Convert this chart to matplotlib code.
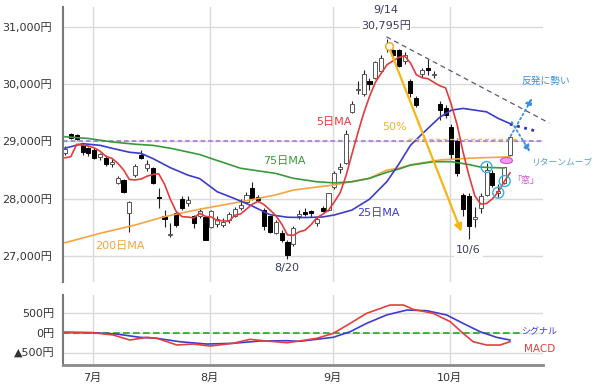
import matplotlib
matplotlib.use("Agg")
import matplotlib.pyplot as plt
from matplotlib.patches import Ellipse

plt.rcParams["font.family"] = ["DejaVu Sans", "Noto Sans CJK JP"]

# --- daily candles (Nikkei 225, yen) ---
dates = ["6/24", "6/25", "6/28", "6/29", "6/30",
         "7/1", "7/2", "7/5", "7/6", "7/7", "7/8", "7/9", "7/12", "7/13", "7/14",
         "7/15", "7/16", "7/19", "7/20", "7/21", "7/26", "7/27", "7/28", "7/29", "7/30",
         "8/2", "8/3", "8/4", "8/5", "8/6", "8/10", "8/11", "8/12", "8/13", "8/16",
         "8/17", "8/18", "8/19", "8/20", "8/23", "8/24", "8/25", "8/26", "8/27", "8/30", "8/31",
         "9/1", "9/2", "9/3", "9/6", "9/7", "9/8", "9/9", "9/10", "9/13", "9/14",
         "9/15", "9/16", "9/17", "9/21", "9/22", "9/24", "9/27", "9/28", "9/29", "9/30",
         "10/1", "10/4", "10/5", "10/6", "10/7", "10/8", "10/11", "10/12", "10/13", "10/14", "10/15"]
opens = [28800, 29130, 29110, 28930, 28890,
         28850, 28730, 28715, 28600, 28280, 28320, 27750, 28410, 28760, 28530,
         28540, 28030, 27690, 27360, 27745, 28000, 27920, 27690, 27690, 27680,
         27510, 27550, 27540, 27620, 27700, 27830, 27950, 28180, 28035, 27800,
         27690, 27400, 27400, 27240, 27200, 27690, 27760, 27780, 27580, 27840, 27800,
         28200, 28520, 28620, 29520, 29900, 29830, 30050, 30100, 30220, 30640,
         30600, 30590, 30400, 30050, 29760, 30170, 30280, 30150, 29660, 29580,
         29250, 29000, 28060, 28040, 27650, 27830, 28060, 28450, 28090, 28270, 28760]
highs = [28911, 29150, 29120, 28960, 28900,
         28880, 28800, 28760, 28700, 28400, 28340, 27960, 28600, 28852, 28680,
         28560, 28190, 27800, 27580, 27780, 28050, 28050, 27710, 27830, 27700,
         27800, 27700, 27660, 27760, 27850, 27990, 28110, 28295, 28060, 27830,
         27700, 27620, 27450, 27270, 27520, 27800, 27830, 27800, 27690, 27880, 28100,
         28480, 28620, 29200, 29700, 30050, 30250, 30100, 30400, 30500, 30795,
         30620, 30620, 30560, 30080, 29800, 30280, 30430, 30220, 29700, 29640,
         29300, 29050, 28100, 28100, 27850, 28100, 28620, 28500, 28250, 28560, 29100]
lows = [28760, 29040, 29030, 28760, 28740,
        28690, 28680, 28570, 28560, 28250, 28100, 27419, 28380, 28700, 28480,
        28250, 27830, 27510, 27330, 27500, 27800, 27880, 27490, 27660, 27270,
        27480, 27500, 27500, 27580, 27680, 27800, 27920, 27980, 27950, 27450,
        27400, 27380, 27250, 26954, 27180, 27650, 27700, 27680, 27520, 27760, 27780,
        28160, 28450, 28600, 29500, 29820, 29800, 29900, 30080, 30200, 30565,
        30450, 30300, 30350, 29780, 29600, 30120, 30150, 30100, 29380, 29400,
        28700, 28400, 27700, 27293, 27500, 27750, 28040, 28200, 28020, 28250, 28740]
closes = [28875, 29066, 29048, 28812, 28792,
          28707, 28783, 28598, 28643, 28367, 28118, 27940, 28569, 28718, 28608,
          28279, 28003, 27653, 27388, 27548, 27833, 27970, 27582, 27782, 27284,
          27781, 27642, 27584, 27728, 27820, 27888, 28071, 28015, 27977, 27523,
          27424, 27586, 27281, 27013, 27494, 27732, 27725, 27742, 27641, 27789, 28090,
          28451, 28544, 29128, 29660, 29916, 30181, 30008, 30382, 30447, 30670,
          30512, 30323, 30500, 29840, 29639, 30249, 30240, 30184, 29544, 29453,
          28771, 28445, 27822, 27529, 27678, 28049, 28498, 28231, 28140, 28551, 29069]

# --- moving averages ---
ma5 = [28712, 28733, 28949, 28935, 28919, 28885, 28828, 28738, 28705, 28620,
       28502, 28333, 28327, 28342, 28391, 28423, 28435, 28252, 27986, 27774,
       27685, 27678, 27664, 27743, 27690, 27680, 27614, 27615, 27604, 27711,
       27732, 27818, 27904, 27954, 27895, 27802, 27705, 27558, 27365, 27360,
       27421, 27449, 27541, 27667, 27726, 27797, 27943, 28103, 28400, 28775,
       29140, 29486, 29779, 30029, 30187, 30338, 30404, 30467, 30490, 30369,
       30163, 30110, 30094, 30030, 29971, 29934, 29638, 29279, 28807, 28404,
       28049, 27905, 27915, 27997, 28119, 28294, 28450]
ma25_at = [0, 3, 6, 8, 11, 13, 15, 18, 21, 23, 26, 29, 32, 35, 38, 41, 44, 46, 49,
           52, 55, 57, 59, 61, 64, 66, 68, 72, 74, 76]
ma25 = [28880, 28960, 28930, 28880, 28810, 28790, 28700, 28540, 28410, 28350,
        28120, 28000, 27870, 27720, 27675, 27670, 27680, 27715, 27800, 27990,
        28300, 28600, 28930, 29130, 29420, 29545, 29575, 29515, 29400, 29310]
ma75_at = [0, 4, 8, 12, 15, 18, 23, 25, 30, 34, 36, 39, 43, 46, 49, 52, 55, 57,
           59, 63, 66, 69, 71, 75]
ma75 = [29080, 29050, 28990, 28950, 28930, 28880, 28770, 28700, 28530, 28470,
        28440, 28355, 28295, 28275, 28295, 28355, 28460, 28515, 28585, 28645,
        28645, 28595, 28550, 28535]
ma200_at = [0, 6, 12, 17, 23, 30, 36, 39, 46, 52, 55, 57, 59, 64, 69, 76]
ma200 = [27230, 27395, 27540, 27685, 27815, 27945, 28065, 28150, 28240, 28355,
         28500, 28530, 28590, 28675, 28705, 28730]

# --- MACD panel (yen) ---
macd_at = [0, 4.8, 8.2, 11.1, 14, 15.7, 19.1, 21.9, 24.8, 28.7, 31.6, 34.4, 37.9,
           40.1, 43, 45.8, 48.7, 51.5, 55.5, 57.8, 59.5, 62.9, 65.8, 68, 69.7, 72,
           74.3, 76]
macd = [10, 0, -57, -183, -115, -140, -307, -283, -333, -265, -165, -207, -250,
        -207, -140, -17, 233, 483, 692, 692, 583, 483, 275, -17, -225, -308, -308,
        -225]
signal_at = [0, 4.8, 8.8, 12.8, 15.7, 19.6, 24.2, 28.7, 33.3, 37.9, 40.1, 45.8,
             48.7, 51.5, 54.9, 58.4, 61.8, 65.2, 68, 70.9, 73.7, 76]
signal = [10, 0, -33, -115, -140, -225, -283, -265, -207, -200, -215, -115, 25,
          233, 442, 567, 550, 442, 233, 25, -115, -183]

peak_high = 30795
bottom_low = 27293
fifty = (peak_high + bottom_low) / 2
ref_level = 29000

x = list(range(len(dates)))
months = []
prev = dates[0].split("/")[0]
for i, d in enumerate(dates):
    m = d.split("/")[0]
    if m != prev:
        months.append((i - 0.3, f"{m}月"))
    prev = m
month_pos = [p for p, _ in months]
month_lab = [t for _, t in months]

fig = plt.figure(figsize=(6.0, 3.89), dpi=100)
ax = fig.add_axes([0.105, 0.2751, 0.8, 0.7061])
ax2 = fig.add_axes([0.105, 0.0617, 0.8, 0.1799])

GRID = "#d9d9d9"
for a in (ax, ax2):
    a.set_xlim(-0.34, 81.64)
    a.set_xticks(month_pos)
    a.grid(True, color=GRID, linewidth=1)
    a.set_axisbelow(True)
    a.spines[["top", "right"]].set_visible(False)
    a.spines["left"].set_color("#7a7a7a")
    a.spines["left"].set_linewidth(1.5)
    a.tick_params(length=0, labelsize=8, colors="#333333")

ax.spines["bottom"].set_visible(False)
ax.tick_params(axis="x", labelbottom=False)
ax.set_ylim(26545, 31340)
yt = [27000, 28000, 29000, 30000, 31000]
ax.set_yticks(yt)
ax.set_yticklabels([f"{v:,}円" for v in yt])
ax.tick_params(axis="y", pad=8)

# candles
up = [c >= o for o, c in zip(opens, closes)]
ax.vlines(x, lows, highs, color="#222222", linewidth=0.8, zorder=2)
body_low = [min(o, c) for o, c in zip(opens, closes)]
body_h = [max(abs(c - o), 18) for o, c in zip(opens, closes)]
ax.bar(x, body_h, bottom=body_low, width=0.7,
       color=["white" if u else "black" for u in up],
       edgecolor=["#555555" if u else "black" for u in up], linewidth=0.7, zorder=2.5)

# moving averages
ax.axhline(ref_level, color="#9b6fd6", linestyle=(0, (3, 2)), linewidth=1.1, zorder=1.5)
ax.plot(ma200_at, ma200, color="#f5a443", linewidth=1.2, zorder=3)
ax.plot(ma75_at, ma75, color="#3a9a3a", linewidth=1.2, zorder=3)
ax.plot(ma25_at, ma25, color="#3c3cc8", linewidth=1.2, zorder=3)
ax.plot(x, ma5, color="#e23c3c", linewidth=1.2, zorder=3.2)

# annotations
i_peak = dates.index("9/14")
i_low = dates.index("10/6")
i_aug = dates.index("8/20")
ax.plot([i_peak + 3.5, 77.4], [fifty, fifty], color="#f0c030", linestyle=(0, (3, 2)),
        linewidth=1.0, zorder=3)
ax.plot([i_peak - 0.1, 82.7], [30825, 29320], color="#5a5a78", linestyle=(0, (4, 3)),
        linewidth=0.9, clip_on=False, zorder=3)
ax.annotate("", xy=(i_low - 1.3, 27420), xytext=(i_peak + 0.3, 30650),
            arrowprops=dict(arrowstyle="-|>", color="#f5b614", lw=1.6,
                            mutation_scale=11, shrinkA=0, shrinkB=0), zorder=4)
ax.plot(i_peak + 0.3, 30670, "o", ms=5.5, mfc="white", mec="#f0a830", mew=1.1, zorder=5)

ax.plot([76, 80.8], [29300, 29170], color="#3333aa", linestyle=":", linewidth=2,
        clip_on=False, zorder=4)
ax.annotate("", xy=(79.8, 29754), xytext=(75.7, 29020),
            arrowprops=dict(arrowstyle="-|>", color="#3a90e0", lw=1.3, ls=":",
                            mutation_scale=10, shrinkA=0, shrinkB=0),
            annotation_clip=False, zorder=4)
ax.annotate("", xy=(79.4, 28813), xytext=(76.3, 29337),
            arrowprops=dict(arrowstyle="-|>", color="#3a90e0", lw=1.3, ls=":",
                            mutation_scale=10, shrinkA=0, shrinkB=0),
            annotation_clip=False, zorder=4)

ax.scatter([72.0, 75.1, 74.0], [28552, 28307, 28103], s=62, facecolors="none",
           edgecolors="#35aee2", linewidths=1.0, zorder=6)
ax.add_patch(Ellipse((75.4, 28665), 2.05, 105, facecolor="#f19bf0",
                     edgecolor="#d24fd2", linewidth=0.8, zorder=6))

dark = "#3c3c5c"
ax.text(i_peak - 0.2, 31293, dates[i_peak], ha="center", va="center", fontsize=8, color=dark)
ax.text(i_peak - 0.2, 31014, f"{peak_high:,}円", ha="center", va="center", fontsize=8,
        color=dark, bbox=dict(facecolor="white", edgecolor="none", pad=0.5), zorder=5)
ax.text(i_aug - 0.1, 26790, dates[i_aug], ha="center", va="center", fontsize=8, color=dark)
ax.text(i_low - 0.1, 27104, dates[i_low], ha="center", va="center", fontsize=8, color=dark,
        bbox=dict(facecolor="white", edgecolor="none", pad=1.5), zorder=5)
ax.text(45.9, 29342, "5日MA", ha="center", va="center", fontsize=8, color="#e23c3c")
ax.text(56.2, 29251, "50%", ha="center", va="center", fontsize=8, color="#f0b428")
ax.text(37.4, 28658, "75日MA", ha="center", va="center", fontsize=8, color="#3a9a3a")
ax.text(53.5, 27750, "25日MA", ha="center", va="center", fontsize=8, color="#3c3cc8")
ax.text(9.4, 27174, "200日MA", ha="center", va="center", fontsize=8, color="#f5a443")
ax.text(82.2, 30054, "反発に勢い", ha="center", va="center", fontsize=7, color="#3a90e0")
ax.text(84.9, 28622, "リターンムーブ", ha="center", va="center", fontsize=6.3,
        color="#4f9ee0")
ax.text(78.6, 28308, "「窓」", ha="center", va="center", fontsize=6.5, color="#e050d0")

# MACD panel
ax2.set_ylim(-807, 942)
ax2.set_yticks([-500, 0, 500])
ax2.set_yticklabels(["▲500円", "0円", "500円"])
ax2.tick_params(axis="y", pad=6)
ax2.tick_params(axis="x", pad=6)
ax2.set_xticklabels(month_lab)
ax2.spines["bottom"].set_color("#8a8a8a")
ax2.spines["bottom"].set_linewidth(2)
ax2.axhline(0, xmax=0.952, color="#22aa22", linestyle=(0, (4, 2)), linewidth=1.2, zorder=2)
ax2.plot(signal_at, signal, color="#3c3cd0", linewidth=1.2, zorder=3)
ax2.plot(macd_at, macd, color="#e04040", linewidth=1.2, zorder=3)
ax2.text(81.0, 17, "シグナル", ha="center", va="center", fontsize=6.5, color="#3c3cd0")
ax2.text(81.0, -408, "MACD", ha="center", va="center", fontsize=7.5, color="#e04040")

fig.savefig("out.png", dpi=100)
